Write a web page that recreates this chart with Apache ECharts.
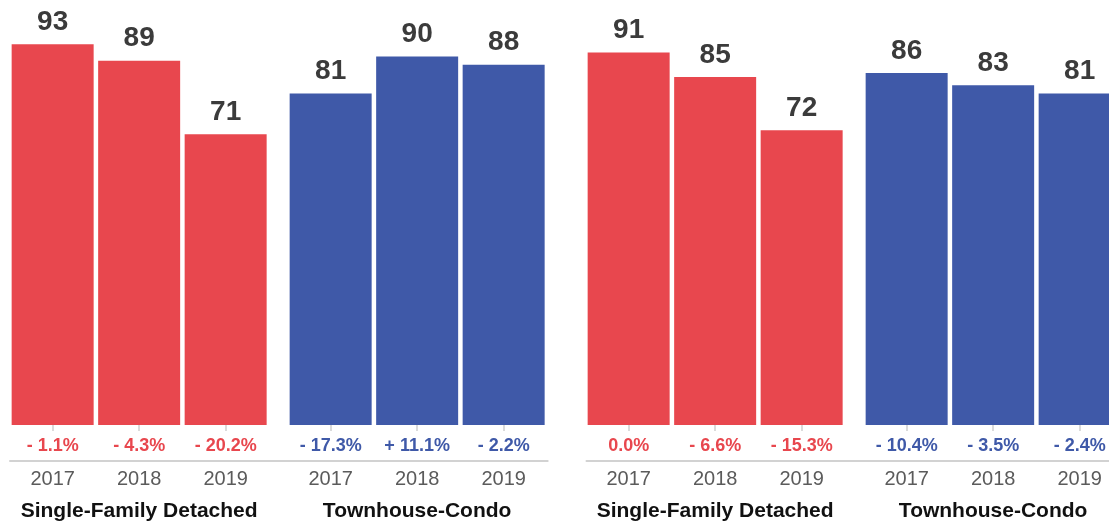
<!DOCTYPE html>
<html>
<head>
<meta charset="utf-8">
<script src="https://cdn.jsdelivr.net/npm/echarts@6/dist/echarts.min.js"></script>
<style>
  html, body { margin: 0; padding: 0; background: #fff; overflow: hidden; }
  #chart { width: 1140px; height: 527px; }
</style>
</head>
<body>
<div id="chart"></div>
<script>
// Categories and group names
const years = ['2017', '2018', '2019'];
const groupNames = ['Single-Family Detached', 'Townhouse-Condo'];

// First panel
const sfdLeft = [93, 89, 71];
const thcLeft = [81, 90, 88];
const sfdLeftChange = [-1.1, -4.3, -20.2];
const thcLeftChange = [-17.3, 11.1, -2.2];

// Second panel
const sfdRight = [91, 85, 72];
const thcRight = [86, 83, 81];
const sfdRightChange = [0.0, -6.6, -15.3];
const thcRightChange = [-10.4, -3.5, -2.4];

const RED = '#E8474E';
const BLUE = '#3F59A8';
const FONT = '"Liberation Sans", Arial, Helvetica, sans-serif';
const CANVAS_W = 1140;

function fmtChange(v) {
  if (v === 0) return '0.0%';
  return (v > 0 ? '+ ' : '- ') + Math.abs(v).toFixed(1) + '%';
}

// Layout: each group of three bars lives in its own grid
const PLOT_TOP = 15.6;
const PLOT_BOTTOM = 527 - 429.3;
const groupsLayout = [
  { left: 9.4,   values: sfdLeft,  change: sfdLeftChange,  color: RED,  name: groupNames[0] },
  { left: 287.4, values: thcLeft,  change: thcLeftChange,  color: BLUE, name: groupNames[1] },
  { left: 585.4, values: sfdRight, change: sfdRightChange, color: RED,  name: groupNames[0] },
  { left: 863.4, values: thcRight, change: thcRightChange, color: BLUE, name: groupNames[1] }
];
const GROUP_W = 259.5;

const grid = [], xAxis = [], yAxis = [], series = [];

groupsLayout.forEach((g, i) => {
  grid.push({ left: g.left, width: GROUP_W, top: PLOT_TOP, bottom: PLOT_BOTTOM });
  xAxis.push({
    gridIndex: i,
    type: 'category',
    data: years,
    offset: 31,
    axisLine: { show: false },
    axisTick: { show: true, alignWithLabel: true, length: 6, lineStyle: { color: '#cfcfcf', width: 1.5 } },
    axisLabel: { color: '#5b5b5b', fontSize: 20, fontFamily: FONT, margin: 13 },
    name: g.name,
    nameLocation: 'middle',
    nameGap: 45,
    nameTextStyle: { color: '#111', fontSize: 21, fontWeight: 'bold', fontFamily: FONT }
  });
  yAxis.push({ gridIndex: i, type: 'value', min: 0, max: 100, show: false });
  series.push({
    type: 'bar',
    xAxisIndex: i, yAxisIndex: i,
    data: g.values,
    barWidth: 82,
    itemStyle: { color: g.color },
    silent: true,
    label: {
      show: true, position: 'top', distance: 8,
      color: '#3b3b3b', fontSize: 28, fontWeight: 'bold', fontFamily: FONT
    }
  });
  series.push({
    type: 'scatter',
    xAxisIndex: i, yAxisIndex: i,
    data: g.change.map(() => 0),
    symbolSize: 0,
    silent: true,
    itemStyle: { opacity: 1 },
    label: {
      show: true, position: 'bottom', distance: 12,
      formatter: p => fmtChange(g.change[p.dataIndex]),
      color: g.color, fontSize: 18, fontWeight: 'bold', fontFamily: FONT
    }
  });
});

// Continuous baseline under each panel
const baselines = [{ left: 10, right: CANVAS_W - 547.7 }, { left: 586.5, right: CANVAS_W - 1124 }];
baselines.forEach((b) => {
  const gi = grid.length;
  grid.push({ left: b.left, right: b.right, top: 400, bottom: 527 - 460.5 });
  xAxis.push({
    gridIndex: gi, type: 'value', min: 0, max: 1,
    axisLine: { show: true, lineStyle: { color: '#d2d2d2', width: 2 } },
    axisTick: { show: false }, axisLabel: { show: false }, splitLine: { show: false }
  });
  yAxis.push({ gridIndex: gi, type: 'value', show: false });
});

const chart = echarts.init(document.getElementById('chart'), null, { renderer: 'canvas' });
chart.setOption({
  animation: false,
  backgroundColor: '#ffffff',
  grid, xAxis, yAxis, series
});
</script>
</body>
</html>
